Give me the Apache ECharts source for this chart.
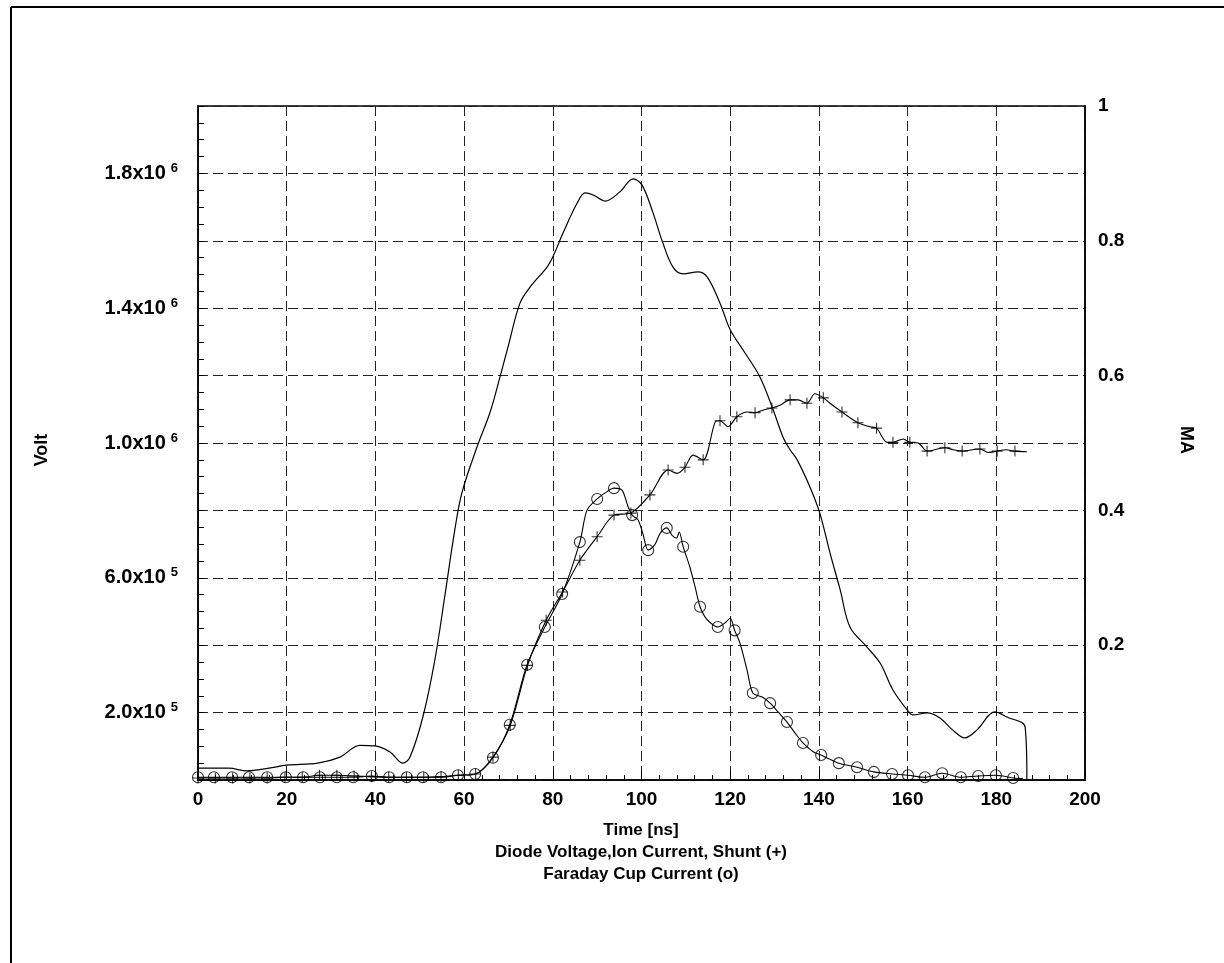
<!DOCTYPE html>
<html><head><meta charset="utf-8">
<script src="https://cdn.jsdelivr.net/npm/echarts@6/dist/echarts.min.js"></script>
<style>html,body{margin:0;padding:0;background:#fff}#c{width:1224px;height:963px}</style>
</head><body><div id="c"></div>
<script>
// ---- Data ----
// Diode voltage [ns, V] (left axis)
const diodeVoltage = [
  [0,35000],[7,35000],[11,27000],[16,35000],[20,44000],[27,50000],[32,68000],[36.5,103000],
  [40,101000],[43.3,83000],[46.2,50000],[47.8,68000],[50.7,187000],[53.4,356000],[55.7,550000],
  [57.9,742000],[59.5,852000],[62.9,988000],[65.8,1089000],[68.1,1196000],[69.9,1285000],
  [72.6,1415000],[74.9,1463000],[78.7,1522000],[80,1552000],[82.3,1623000],[85.5,1712000],
  [87.3,1742000],[89.1,1736000],[91.8,1718000],[95.2,1746000],[98.1,1784000],[100.1,1766000],
  [102.6,1683000],[104.8,1594000],[107.1,1522000],[109.4,1502000],[112.7,1508000],[114.8,1493000],
  [117.7,1415000],[120,1336000],[122.9,1276000],[126.7,1196000],[129.7,1098000],[131.9,1018000],
  [133.5,980000],[135.1,950000],[138,869000],[140.2,792000],[142.5,674000],[144.8,564000],
  [147,454000],[150.8,395000],[153.8,347000],[156.7,267000],[159.9,208000],[161.2,193000],
  [164.4,199000],[167.3,184000],[170.2,148000],[172.9,125000],[175.6,148000],[179.7,202000],
  [182.4,187000],[186.5,157000],[186.9,0]
];
// Ion current, shunt (+) marker samples [ns, MA] (right axis)
const shuntMarks = [
  [0,0.003],[3.9,0.003],[7.8,0.003],[11.7,0.003],[15.6,0.003],[19.6,0.004],[23.5,0.004],
  [27.4,0.007],[31.3,0.007],[35.2,0.006],[39.1,0.005],[43,0.004],[47,0.004],[50.9,0.004],
  [54.8,0.005],[58.7,0.007],[62.6,0.009],[66.5,0.034],[70.4,0.081],[74.3,0.17],[78.5,0.237],
  [82.2,0.279],[86.1,0.326],[90,0.361],[93.8,0.393],[97.6,0.396],[101.9,0.423],[106,0.46],
  [109.8,0.464],[113.9,0.475],[117.7,0.533],[121.5,0.539],[125.6,0.545],[129.4,0.552],
  [133.5,0.564],[137.3,0.559],[141,0.567],[145.2,0.546],[148.8,0.53],[153,0.522],[156.7,0.501],
  [160.5,0.501],[164.4,0.488],[168.4,0.493],[172.3,0.488],[176.3,0.491],[180.2,0.488],[184.2,0.488]
];
// extra vertices of the shunt trace between markers
const shuntTrace = [
  [108,0.455],[111.6,0.482],[116.6,0.531],[119.5,0.524],[123.8,0.546],[127.5,0.549],[131.2,0.556],
  [135.3,0.564],[139.1,0.573],[142.5,0.559],[151.5,0.524],[155.4,0.501],[159,0.506],[162.4,0.5],
  [170.3,0.49],[178.2,0.486],[182.2,0.49],[186.9,0.487]
];
// Faraday cup current (o) marker samples [ns, MA] (right axis)
const cupMarks = [
  [0,0.004],[3.6,0.004],[7.7,0.004],[11.5,0.004],[15.6,0.004],[19.8,0.004],[23.7,0.004],
  [27.5,0.004],[31.3,0.004],[35,0.004],[39.2,0.006],[43.1,0.004],[47.1,0.004],[50.7,0.004],
  [54.8,0.004],[58.6,0.007],[62.5,0.009],[66.5,0.033],[70.3,0.082],[74.2,0.171],[78.2,0.227],
  [82.1,0.276],[86.1,0.353],[90,0.417],[93.8,0.433],[97.9,0.393],[101.5,0.341],[105.7,0.374],
  [109.4,0.346],[113.2,0.257],[117.2,0.227],[121,0.222],[125.1,0.129],[129,0.114],[132.8,0.086],
  [136.4,0.055],[140.5,0.037],[144.5,0.025],[148.6,0.019],[152.4,0.012],[156.5,0.009],
  [160.1,0.007],[163.9,0.004],[167.8,0.01],[172,0.004],[175.9,0.006],[179.9,0.007],[183.8,0.003]
];
// extra vertices of the cup trace between markers
const cupTrace = [
  [87.7,0.4],[91.8,0.426],[95.6,0.43],[97,0.405],[99.2,0.386],[100.3,0.366],[103,0.349],
  [104.2,0.366],[106.9,0.363],[107.9,0.359],[108.5,0.368],[110.9,0.316],[112.1,0.286],
  [114.3,0.242],[115.4,0.234],[118.8,0.233],[120,0.24],[122.2,0.203],[123.8,0.163],[127.2,0.123],
  [130.8,0.101],[134.6,0.07],[138.7,0.042],[186,0.002]
];
// tick labels
const voltTickLabels = {200000:['2.0x10','5'],600000:['6.0x10','5'],1000000:['1.0x10','6'],1400000:['1.4x10','6'],1800000:['1.8x10','6']};
const maTickLabels = {0.2:'0.2',0.4:'0.4',0.6:'0.6',0.8:'0.8',1:'1'};
const xTitleLines = ['Time [ns]','Diode Voltage,Ion Current, Shunt (+)','Faraday Cup Current (o)'];

// ---- Chart ----
const FF = '"Liberation Sans", Arial, sans-serif';
const merge = (a,b) => a.concat(b).sort((p,q)=>p[0]-q[0]);
const dashed = {show:true, lineStyle:{color:'#222', width:1, type:[10,5]}};
const chart = echarts.init(document.getElementById('c'), null, {renderer:'canvas'});
chart.setOption({
  animation:false,
  backgroundColor:'#fff',
  grid:{left:198, top:106, width:887, height:674, show:true, borderColor:'#000', borderWidth:1.5, backgroundColor:'transparent'},
  xAxis:{type:'value', min:0, max:200, interval:20,
    axisLine:{show:true, lineStyle:{color:'#000', width:1.5}},
    axisTick:{show:true, inside:true, length:10, lineStyle:{color:'#000'}},
    minorTick:{show:true, splitNumber:5, length:5, lineStyle:{color:'#000'}},
    splitLine:dashed,
    axisLabel:{color:'#000', fontSize:19, fontWeight:'bold', fontFamily:FF, margin:10}
  },
  yAxis:[
    {type:'value', min:0, max:2000000, interval:200000, position:'left',
      axisLine:{show:true, lineStyle:{color:'#000', width:1.5}},
      axisTick:{show:true, inside:true, length:6, lineStyle:{color:'#000'}},
      minorTick:{show:true, splitNumber:4, length:6, lineStyle:{color:'#000'}},
      splitLine:dashed,
      axisLabel:{margin:20, formatter:v=>{const l=voltTickLabels[Math.round(v)]; return l?'{m|'+l[0]+'}{s|'+l[1]+'}':'';},
        rich:{m:{fontSize:20, fontWeight:'bold', fontFamily:FF, color:'#000'},
              s:{fontSize:13, fontWeight:'bold', fontFamily:FF, color:'#000', padding:[0,0,10,5]}}}
    },
    {type:'value', min:0, max:1, interval:0.2, position:'right',
      axisLine:{show:true, lineStyle:{color:'#000', width:1.5}},
      axisTick:{show:false}, splitLine:{show:false},
      axisLabel:{margin:13, color:'#000', fontSize:19, fontWeight:'bold', fontFamily:FF,
        formatter:v=>maTickLabels[+v.toFixed(1)]||''}
    }
  ],
  series:[
    {name:'Diode Voltage', type:'line', yAxisIndex:0, data:diodeVoltage, showSymbol:false,
      smooth:0.35, lineStyle:{color:'#000', width:1.2}},
    {name:'Shunt trace', type:'line', yAxisIndex:1, data:merge(shuntMarks, shuntTrace), showSymbol:false,
      smooth:0.3, lineStyle:{color:'#000', width:1.1}},
    {name:'Shunt (+)', type:'scatter', yAxisIndex:1, data:shuntMarks, symbol:'path://M5 0L5 10M0 5L10 5',
      symbolSize:11, itemStyle:{color:'rgba(0,0,0,0)', borderColor:'#000', borderWidth:1.1}},
    {name:'Cup trace', type:'line', yAxisIndex:1, data:merge(cupMarks, cupTrace), showSymbol:false,
      smooth:0.3, lineStyle:{color:'#000', width:1.1}},
    {name:'Faraday Cup (o)', type:'scatter', yAxisIndex:1, data:cupMarks, symbol:'circle',
      symbolSize:11, itemStyle:{color:'rgba(0,0,0,0)', borderColor:'#000', borderWidth:1.1}}
  ],
  graphic:[
    {type:'line', shape:{x1:11,y1:7,x2:11,y2:963}, style:{stroke:'#000', lineWidth:2}},
    {type:'line', shape:{x1:11,y1:7,x2:1224,y2:7}, style:{stroke:'#000', lineWidth:2}},
    {type:'text', x:641, y:830, style:{text:xTitleLines[0], font:'bold 17px '+FF, fill:'#000', align:'center', verticalAlign:'middle'}},
    {type:'text', x:641, y:852, style:{text:xTitleLines[1], font:'bold 17px '+FF, fill:'#000', align:'center', verticalAlign:'middle'}},
    {type:'text', x:641, y:874, style:{text:xTitleLines[2], font:'bold 17px '+FF, fill:'#000', align:'center', verticalAlign:'middle'}},
    {type:'text', x:42, y:450, rotation:Math.PI/2, style:{text:'Volt', font:'bold 18px '+FF, fill:'#000', align:'center', verticalAlign:'middle'}},
    {type:'text', x:1186, y:440, rotation:-Math.PI/2, style:{text:'MA', font:'bold 18px '+FF, fill:'#000', align:'center', verticalAlign:'middle'}}
  ]
});
</script></body></html>
